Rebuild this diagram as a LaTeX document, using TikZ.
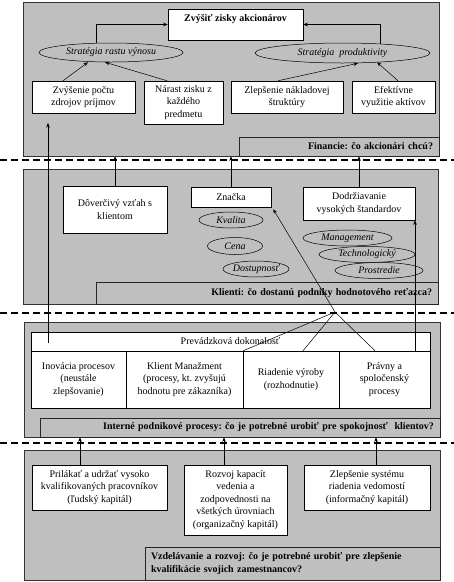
\documentclass[tikz,border=0pt]{standalone}
\usepackage{fontspec}
\setmainfont{Liberation Serif}
\usetikzlibrary{shapes.geometric,arrows.meta,calc}
\frenchspacing
\begin{document}
\begin{tikzpicture}[x=1pt,y=-1pt,
  panel/.style={draw=black!80, fill=black!25, line width=0.6pt, inner sep=0pt},
  wbox/.style={draw=black, fill=white, align=center, inner sep=1pt, line width=0.5pt,
    font=\fontsize{10}{12.5}\selectfont},
  ell/.style={ellipse, draw=black, fill=black!25, inner sep=0pt, line width=0.5pt,
    font=\fontsize{10}{12}\selectfont\itshape},
  lbl/.style={draw=black!85, fill=black!25, line width=1pt, inner xsep=6pt, inner ysep=0pt,
    font=\fontsize{10}{13}\selectfont\bfseries},
  arr/.style={-{Stealth[length=4.5pt,width=3.5pt]}, line width=0.5pt},
  con/.style={line width=0.5pt},
  sep/.style={dash pattern=on 7pt off 4pt, line width=1.2pt}]
\useasboundingbox (0,0) rectangle (454,582);

% panels
\node[panel, minimum width=416pt, minimum height=154pt] (P1) at (231,79) {};
\node[panel, minimum width=415pt, minimum height=135pt] (P2) at (230.5,236.5) {};
\node[panel, minimum width=416pt, minimum height=115pt] (P3) at (232,379.5) {};
\node[panel, minimum width=416pt, minimum height=130pt] (P4) at (232,515) {};

% separators
\draw[sep] (0,160) -- (454,160);
\draw[sep] (0,313) -- (454,313);
\draw[sep] (0,443) -- (454,443);

% layer 1
\node[wbox, minimum width=135pt, minimum height=31pt, font=\fontsize{10}{13}\selectfont\bfseries] (top) at (235.5,24.5) {Zvýšiť zisky akcionárov\\ \mbox{}};
\node[ell, minimum width=144pt, minimum height=19pt] (e1) at (111,52.5) {Stratégia rastu výnosu};
\node[ell, minimum width=175pt, minimum height=20pt] (e2) at (342.5,53) {Stratégia\ \ produktivity};
\node[wbox, minimum width=103pt, minimum height=32pt] (b1) at (83.5,97) {Zvýšenie počtu\\zdrojov príjmov};
\node[wbox, minimum width=79pt, minimum height=43pt] (b2) at (183.5,102.5) {Nárast zisku z\\každého\\predmetu};
\node[wbox, minimum width=112pt, minimum height=32pt] (b3) at (287,97) {Zlepšenie nákladovej\\štruktúry};
\node[wbox, minimum width=83pt, minimum height=32pt] (b4) at (393.5,97) {Efektívne\\využitie aktívov};
\node[lbl, text width=188pt, align=right, minimum height=19pt] (fin) at (339,146.5) {Financie: čo akcionári chcú?};

% layer 2
\node[wbox, minimum width=104pt, minimum height=47pt] (dover) at (115,209.5) {Dôverčivý vzťah s\\klientom};
\node[wbox, minimum width=80pt, minimum height=20pt] (znacka) at (231,197) {Značka};
\node[wbox, minimum width=112pt, minimum height=33pt] (dodrz) at (359,203.5) {Dodržiavanie\\vysokých štandardov};
\node[ell, minimum width=64pt, minimum height=16pt] (kval) at (231,220) {Kvalita};
\node[ell, minimum width=55pt, minimum height=17pt] (cena) at (235,246) {Cena};
\node[ell, minimum width=66pt, minimum height=16pt] (dost) at (256,269) {Dostupnosť};
\node[ell, minimum width=89pt, minimum height=16pt] (mgmt) at (347.5,238) {Management};
\node[ell, minimum width=96pt, minimum height=16pt] (tech) at (367,254.5) {Technologický};
\node[ell, minimum width=88pt, minimum height=16pt] (prost) at (379,270.5) {Prostredie};
\node[lbl, text width=330pt, align=right, minimum height=22pt] (kli) at (267,293) {Klienti: čo dostanú podniky hodnotového reťazca?};

% layer 3
\node[wbox, minimum width=399pt, minimum height=19pt] (prev) at (230.5,341.5) {Prevádzková dokonalosť};
\node[wbox, minimum width=95pt, minimum height=57pt] (inov) at (78.5,379.5) {Inovácia procesov\\(neustále\\zlepšovanie)};
\node[wbox, minimum width=117pt, minimum height=57pt] (klient) at (184.5,379.5) {Klient Manažment\\(procesy, kt. zvyšujú\\hodnotu pre zákazníka)};
\node[wbox, minimum width=96pt, minimum height=57pt] (riad) at (291,379.5) {Riadenie výroby\\(rozhodnutie)};
\node[wbox, minimum width=91pt, minimum height=57pt] (pravny) at (384.5,379.5) {Právny a\\spoločenský\\procesy};
\node[lbl, text width=388pt, align=right, minimum height=19pt] (int) at (240,427.5) {Interné podnikové procesy: čo je potrebné urobiť pre spokojnosť\ \ klientov?};

% layer 4
\node[wbox, minimum width=135pt, minimum height=45pt] (pril) at (99.5,487.5) {Prilákať a udržať vysoko\\kvalifikovaných pracovníkov\\(ľudský kapitál)};
\node[wbox, minimum width=103pt, minimum height=70pt] (rozv) at (235.5,500) {Rozvoj kapacít\\vedenia a\\zodpovednosti na\\všetkých úrovniach\\(organizačný kapitál)};
\node[wbox, minimum width=126pt, minimum height=45pt] (zlep) at (367,487.5) {Zlepšenie systému\\riadenia vedomostí\\(informačný kapitál)};
\node[lbl, text width=283pt, align=left, minimum height=33pt] (vzd) at (292.5,563.5) {Vzdelávanie a rozvoj: čo je potrebné urobiť pre zlepšenie\\kvalifikácie svojich zamestnancov?};

% connectors layer 1
\draw[arr] ([xshift=-15pt]e1.north) |- (top.west);
\draw[arr] ([xshift=37.5pt,yshift=-1pt]e2.north) |- (top.east);
\draw[arr] ([xshift=-20.5pt]b1.north) -- ([xshift=-23pt]e1.south);
\draw[arr] ([xshift=-16.5pt]b2.north) -- ([xshift=-6pt]e1.south);
\draw[arr] ([xshift=-9pt]b3.north) -- ([xshift=15.5pt]e2.south);
\draw[arr] ([xshift=4.5pt]b4.north) -- ([xshift=34.5pt,yshift=1pt]e2.south);

% layer 2 -> layer 1
\coordinate (inovTop) at (48,343);
\coordinate (finL) at (48,123);
\draw[arr] (inovTop) -- (finL);
\draw[arr] (dover.north) -- (dover.north |- P1.south);
\draw[arr] (znacka.north) -- (znacka.north |- P1.south);
\draw[arr] (dodrz.north) -- (dodrz.north |- P1.south);

% layer 3 -> layer 2
\coordinate (apex) at (335,312);
\coordinate (r3) at ([xshift=12pt]riad.north);
\coordinate (p4) at ([xshift=-9.5pt]pravny.north);
\coordinate (p5) at ([xshift=30.5pt]pravny.north);
\draw[con] (klient.north east) -- (apex);
\draw[con] (r3) -- (apex);
\draw[con] (p4) -- (apex);
\draw[arr] (apex) -- ([xshift=2pt,yshift=-2pt]znacka.south east);
\draw[arr] (p5) -- (p5 |- dodrz.south);

% layer 4 -> layer 3
\coordinate (q1) at ([xshift=-19.5pt]pril.north);
\coordinate (q2) at ([xshift=-11.5pt]rozv.north);
\coordinate (q3) at ([xshift=9pt]zlep.north);
\draw[arr] (q1) -- (q1 |- P3.south);
\draw[arr] (q2) -- (q2 |- P3.south);
\draw[arr] (q3) -- (q3 |- P3.south);
\end{tikzpicture}
\end{document}
